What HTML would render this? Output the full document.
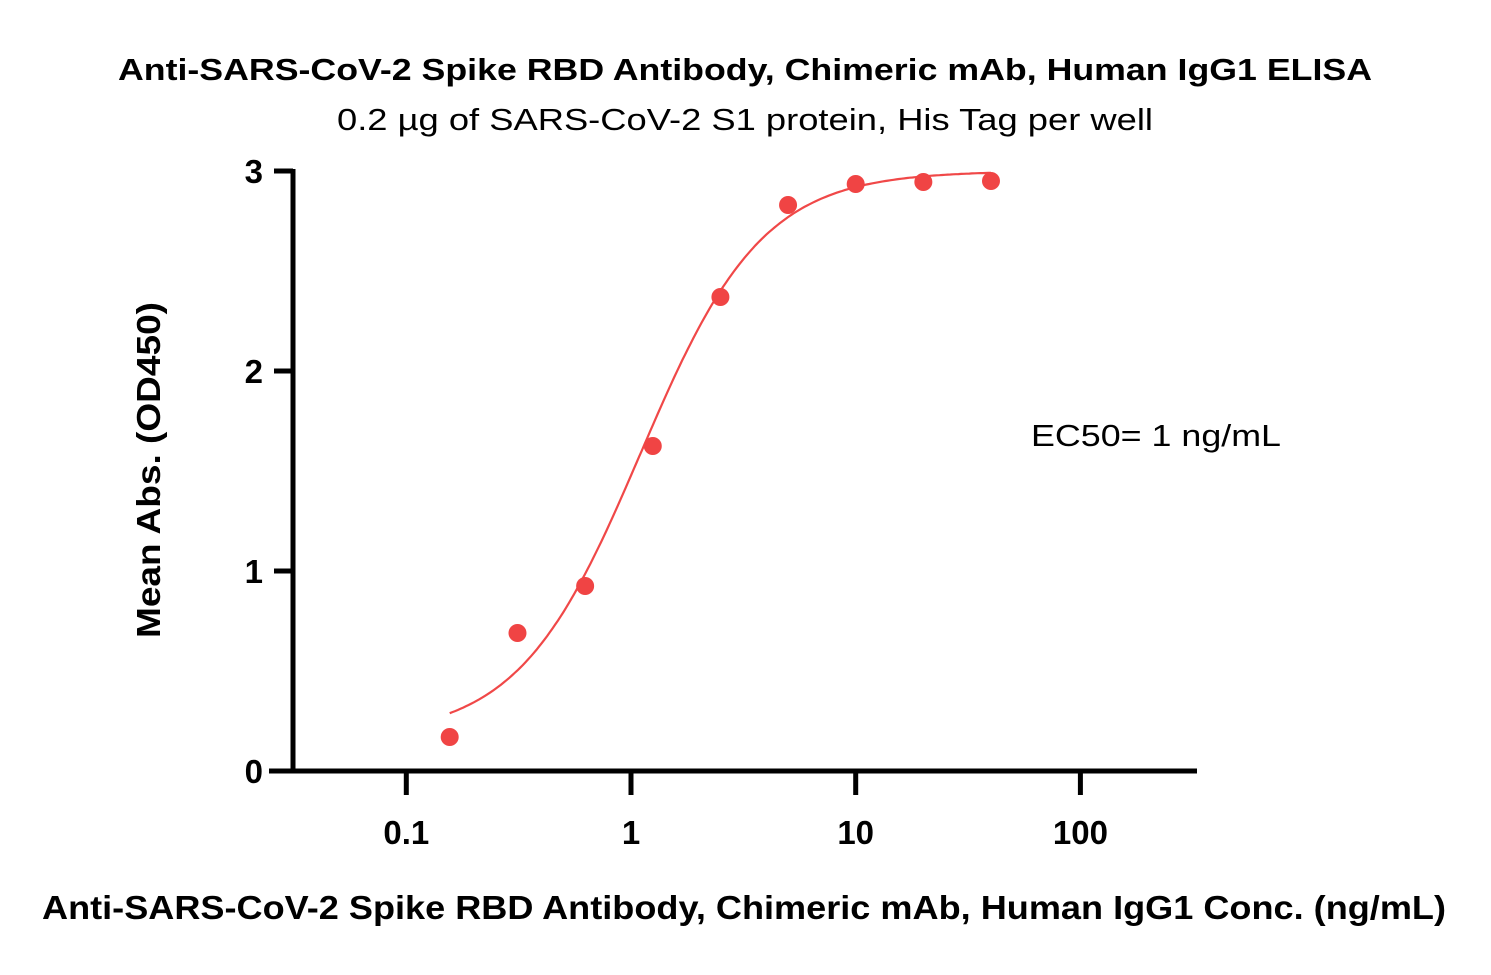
<!DOCTYPE html>
<html><head><meta charset="utf-8"><style>
body{margin:0;background:#fff}
svg{display:block;font-family:"Liberation Sans",sans-serif}
</style></head><body>
<svg width="1491" height="975" viewBox="0 0 1491 975">
<text x="745" y="80" text-anchor="middle" font-size="31" font-weight="800" textLength="1254" lengthAdjust="spacingAndGlyphs">Anti-SARS-CoV-2 Spike RBD Antibody, Chimeric mAb, Human IgG1 ELISA</text>
<text x="745" y="130" text-anchor="middle" font-size="31" textLength="816" lengthAdjust="spacingAndGlyphs">0.2 µg of SARS-CoV-2 S1 protein, His Tag per well</text>
<g id="axes"></g>
<g id="marks"></g>
<text x="1031" y="446" font-size="31" textLength="250" lengthAdjust="spacingAndGlyphs">EC50= 1 ng/mL</text>
<text transform="translate(160,470) rotate(-90)" text-anchor="middle" font-size="33" font-weight="800" textLength="336" lengthAdjust="spacingAndGlyphs">Mean Abs. (OD450)</text>
<text x="744" y="919" text-anchor="middle" font-size="33" font-weight="800" textLength="1404" lengthAdjust="spacingAndGlyphs">Anti-SARS-CoV-2 Spike RBD Antibody, Chimeric mAb, Human IgG1 Conc. (ng/mL)</text>
</svg>
<script>
const concentrations=[0.156,0.3125,0.625,1.25,2.5,5,10,20,40];
const absorbance=[0.17,0.69,0.925,1.625,2.37,2.83,2.935,2.945,2.95];
const yTicks=[0,1,2,3];
const xTicks=[0.1,1,10,100];
const xTickLabels=["0.1","1","10","100"];
const fitBottom=0.17, fitTop=3.0, fitEC50=1.1, fitHill=1.6;
const NS="http://www.w3.org/2000/svg";
const xs=v=>631+Math.log10(v)*224.7;
const ys=v=>771-v*200;
const axes=document.getElementById('axes'), marks=document.getElementById('marks');
function mk(t,a,p){const e=document.createElementNS(NS,t);for(const k in a)e.setAttribute(k,a[k]);p.appendChild(e);return e;}
let yl=mk('line',{x1:293,y1:169,x2:293,y2:773,stroke:'#000','stroke-width':5},axes);


let xl=mk('line',{x1:269,y1:771,x2:1197,y2:771,stroke:'#000','stroke-width':5},axes);


yTicks.forEach(v=>{
 let t=mk('line',{x1:274,x2:293,y1:ys(v),y2:ys(v),stroke:'#000','stroke-width':5},axes);
 
 
 let l=mk('text',{x:263,y:ys(v)+12,'text-anchor':'end','font-size':33,'font-weight':'bold'},axes);
 l.textContent=v;
 
 
});
xTicks.forEach((v,i)=>{
 let t=mk('line',{x1:xs(v),x2:xs(v),y1:771,y2:795,stroke:'#000','stroke-width':5},axes);
 
 
 let l=mk('text',{x:xs(v),y:844,'text-anchor':'middle','font-size':33,'font-weight':'bold'},axes);
 l.textContent=xTickLabels[i];
 
 
});
let d='';
const lo=Math.log10(concentrations[0]),hi=Math.log10(concentrations[concentrations.length-1]);
for(let i=0;i<=200;i++){const lx=lo+(hi-lo)*i/200,c=Math.pow(10,lx);
 const y=fitBottom+(fitTop-fitBottom)/(1+Math.pow(fitEC50/c,fitHill));
 d+=(i?'L':'M')+xs(c).toFixed(1)+' '+ys(y).toFixed(1);}
let cv=mk('path',{d:d,fill:'none',stroke:'#f04848','stroke-width':2.2},marks);


concentrations.forEach((c,i)=>{
 let p=mk('circle',{cx:xs(c),cy:ys(absorbance[i]),r:9,fill:'#f04444'},marks);
 
 
});
</script>
</body></html>
